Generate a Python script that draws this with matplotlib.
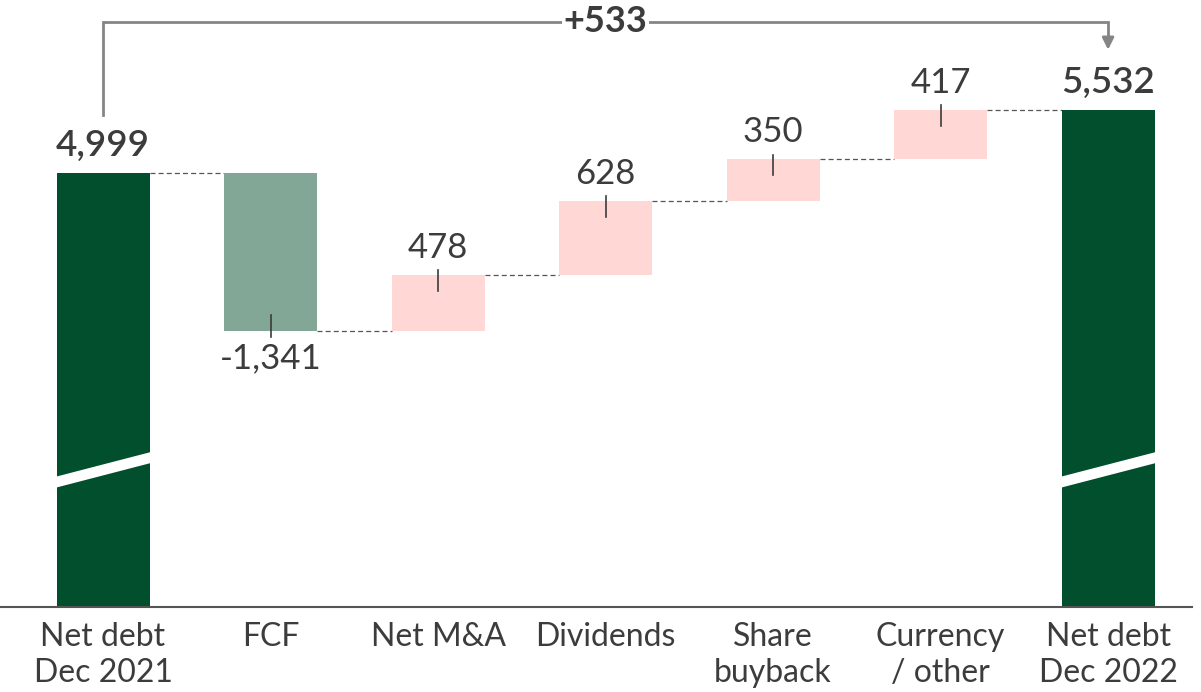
import matplotlib
matplotlib.use("Agg")
import matplotlib.pyplot as plt
from matplotlib.patches import Polygon

categories = ["Net debt\nDec 2021", "FCF", "Net M&A", "Dividends", "Share\nbuyback", "Currency\n/ other", "Net debt\nDec 2022"]
start_value = 4999
changes = [-1341, 478, 628, 350, 417]
end_value = 5532
change_labels = ["-1,341", "478", "628", "350", "417"]
total_labels = ["4,999", "5,532"]
bridge_label = "+533"

DARK = "#014f2d"
NEG = "#82a796"
POS = "#ffd7d4"
TXT = "#3c3c3c"
GREY = "#858585"

plt.rcParams['font.family'] = ['Lato', 'DejaVu Sans']

fig = plt.figure(figsize=(12.01, 6.92), dpi=100)
ax = fig.add_axes([0.0, (692 - 607) / 692, 1192 / 1201, 607 / 692])
ymin, ymax = 1321, 6465
ax.set_xlim(-0.615, 6.501)
ax.set_ylim(ymin, ymax)
w = 0.555

# total bars
ax.bar([0, 6], [start_value - ymin, end_value - ymin], bottom=ymin, width=w, color=DARK, zorder=2)

# change bars
running = start_value
levels = [start_value]
for i, c in enumerate(changes):
    x = i + 1
    color = NEG if c < 0 else POS
    ax.bar(x, c, bottom=running, width=w, color=color, zorder=2)
    new = running + c
    if c < 0:
        ax.plot([x, x], [new - 50, new + 135], color=TXT, lw=1.2, zorder=3)
        ax.annotate(change_labels[i], (x, new), xytext=(0, -8), textcoords="offset points",
                    ha="center", va="top", fontsize=25, color=TXT)
    else:
        ax.plot([x, x], [new + 40, new - 135], color=TXT, lw=1.2, zorder=3)
        ax.annotate(change_labels[i], (x, new), xytext=(0, 8), textcoords="offset points",
                    ha="center", va="bottom", fontsize=25, color=TXT)
    running = new
    levels.append(running)

# connectors
for i, lvl in enumerate(levels):
    ax.plot([i + w / 2, i + 1 - w / 2], [lvl, lvl], color="#555555", lw=0.9,
            ls=(0, (4, 2.5)), zorder=1)

# total labels
for x, v, lab in [(0, start_value, total_labels[0]), (6, end_value, total_labels[1])]:
    ax.annotate(lab, (x, v), xytext=(0, 8), textcoords="offset points",
                ha="center", va="bottom", fontsize=26.5, color=TXT, fontweight="semibold")

# break marks
for x in [0, 6]:
    x0, x1 = x - w / 2 - 0.01, x + w / 2 + 0.01
    yl, yr, th = 2423, 2635, 93
    ax.add_patch(Polygon([(x0, yl), (x1, yr), (x1, yr - th), (x0, yl - th)],
                         closed=True, facecolor="white", edgecolor="none", zorder=4))

# bracket
top = 6280
ax.plot([0, 0, 6, 6], [5490, top, top, 6110], color=GREY, lw=2.0, zorder=3,
        solid_joinstyle="miter")
ax.annotate("", xy=(6, 6020), xytext=(6, 6130),
            arrowprops=dict(arrowstyle="-|>,head_length=0.7,head_width=0.35", color=GREY, lw=2.0))
ax.text(3, top, bridge_label, ha="center", va="center", fontsize=26, fontweight="bold",
        color=TXT, bbox=dict(facecolor="white", edgecolor="none", pad=1), zorder=5)

# axes styling
for s in ["top", "right", "left"]:
    ax.spines[s].set_visible(False)
ax.spines["bottom"].set_color("#555555")
ax.spines["bottom"].set_linewidth(1.5)
ax.set_yticks([])
ax.set_xticks(range(len(categories)))
ax.set_xticklabels(categories, fontsize=23, color=TXT, linespacing=1.25)
ax.tick_params(axis="x", length=0, pad=11)

fig.savefig("out.png", dpi=100)
